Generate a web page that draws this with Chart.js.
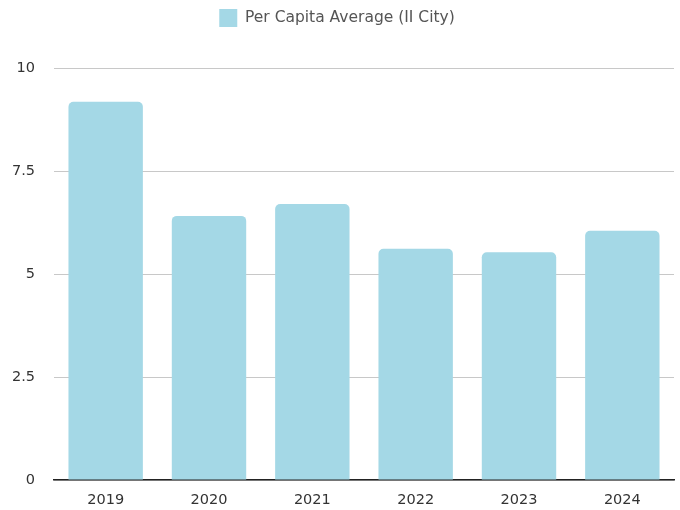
<!DOCTYPE html>
<html>
<head>
<meta charset="utf-8">
<script src="https://cdn.jsdelivr.net/npm/chart.js@4/dist/chart.umd.min.js"></script>
<style>
    html, body { margin: 0; padding: 0; background: #fff; }
    #wrap { width: 680px; height: 510px; }
</style>
</head>
<body>
<div id="wrap"><canvas id="avgChart"></canvas></div>
<script>
const years = ['2019', '2020', '2021', '2022', '2023', '2024'];
const perCapita = [9.18, 6.41, 6.70, 5.61, 5.53, 6.05];
const yTicks = [0, 2.5, 5, 7.5, 10];

Chart.defaults.font.family = '"DejaVu Sans", "Open Sans", sans-serif';

// give the legend some extra room below it
const legendSpacer = {
    id: 'legendSpacer',
    beforeInit(chart) {
        const origFit = chart.legend.fit;
        chart.legend.fit = function() {
            origFit.bind(chart.legend)();
            this.height += 31;
        };
    }
};

const ctx = document.getElementById('avgChart').getContext('2d');
const avgChart = new Chart(ctx, {
    type: 'bar',
    data: {
        labels: years,
        datasets: [{
            label: 'Per Capita Average (II City)',
            data: perCapita,
            backgroundColor: '#a4d8e6',
            borderRadius: 5,
            borderSkipped: 'bottom'
        }]
    },
    options: {
        responsive: true,
        maintainAspectRatio: false,
        animation: false,
        layout: {
            padding: { left: 0, right: 6, top: 0, bottom: 2 }
        },
        plugins: {
            legend: {
                labels: {
                    boxWidth: 18,
                    boxHeight: 18,
                    color: '#555',
                    font: { size: 15.5 },
                    padding: 9
                }
            },
            tooltip: { enabled: false }
        },
        scales: {
            x: {
                afterFit: function(axis) { axis.height = 28; },
                grid: { display: false, drawTicks: false },
                border: { color: '#222', width: 1.5 },
                ticks: { color: '#333', font: { size: 14.5 }, padding: 12 }
            },
            y: {
                min: 0,
                max: 10,
                afterFit: function(axis) { axis.width = 54; },
                afterBuildTicks: function(axis) {
                    axis.ticks = yTicks.map(v => ({ value: v }));
                },
                grid: { color: '#c8c8c8', drawTicks: false },
                border: { display: false },
                ticks: { color: '#333', font: { size: 14.5 }, padding: 19 }
            }
        }
    },
    plugins: [legendSpacer]
});
</script>
</body>
</html>
